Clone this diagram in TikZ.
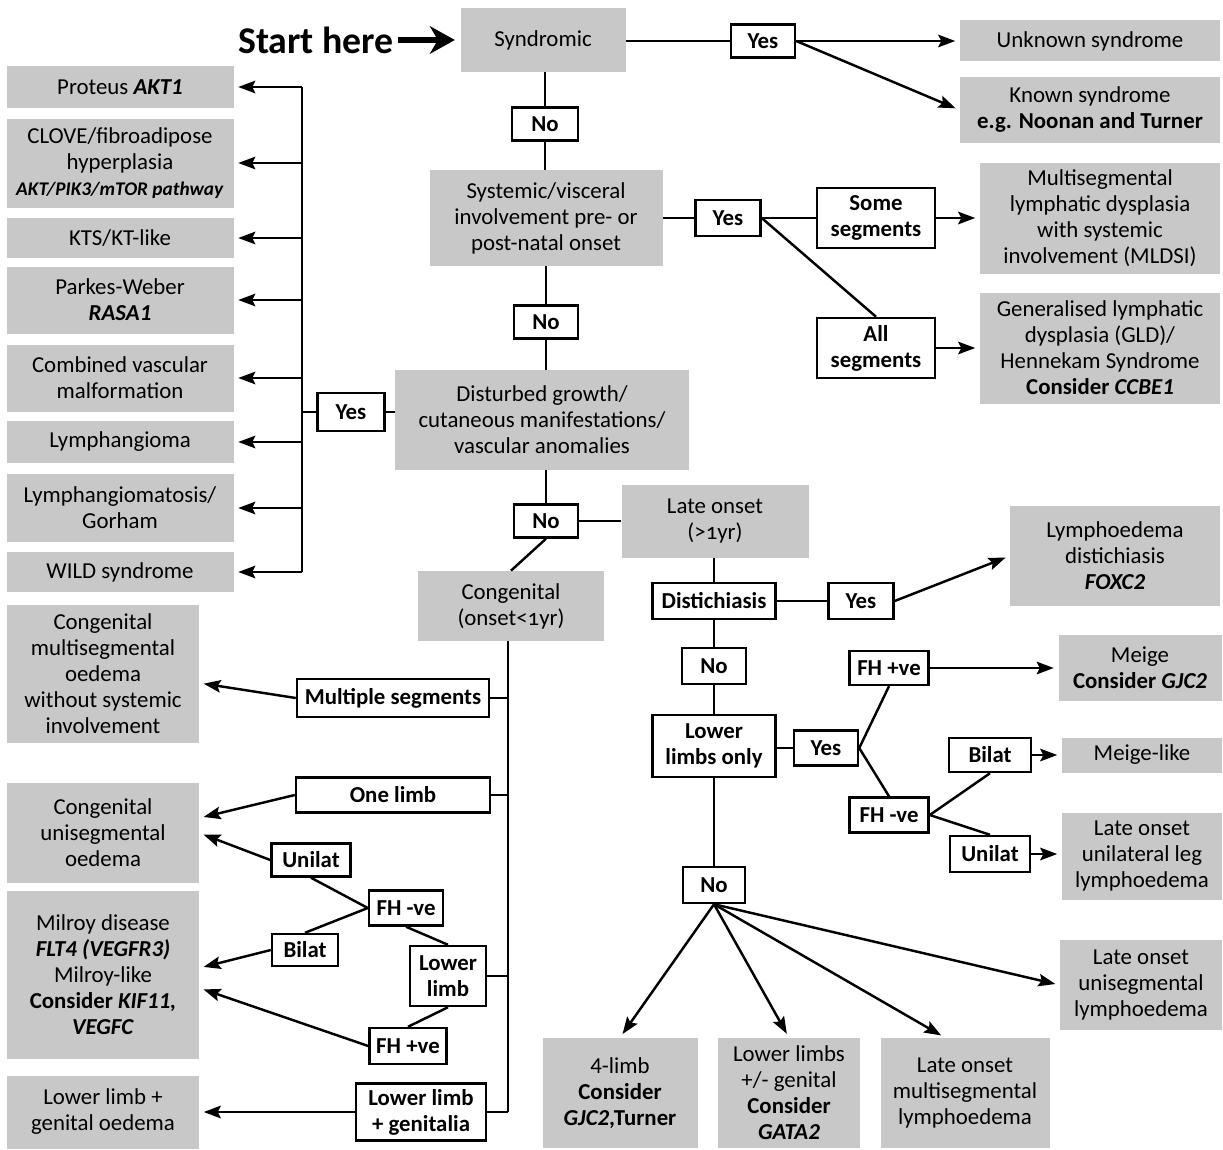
\documentclass[tikz,border=0pt]{standalone}
\usepackage{fontspec}
\setmainfont{Carlito}
\usetikzlibrary{arrows.meta, positioning}
\definecolor{boxgray}{RGB}{200,200,200}
\newcommand{\gene}[1]{\textbf{\textit{#1}}}
\newcommand{\oldone}{{\addfontfeatures{Numbers=OldStyle}1}}

\begin{document}
\begin{tikzpicture}[x=0.02cm, y=-0.02cm,
  gbox/.style={fill=boxgray, align=center, inner sep=1pt, font=\fontsize{13}{14.8}\selectfont},
  ybox/.style={draw, line width=1.4pt, fill=white, align=center, inner sep=1pt, font=\fontsize{13}{14.8}\selectfont\bfseries},
  sz/.style 2 args={minimum width=#1*0.02cm, minimum height=#2*0.02cm},
  link/.style={line width=1.4pt},
  arr/.style={-{Stealth[length=3.4mm, width=2.5mm, inset=0.6mm]}, line width=1.4pt, shorten >=2.5pt}
]
\useasboundingbox (0,0) rectangle (1223,1149);

% top row
\node[gbox, sz={165}{64}] (synd) at (543,40) {Syndromic};
\node[left=1.25cm of synd, inner sep=2pt, font=\fontsize{21.5}{24}\selectfont\bfseries] (start) {Start here};
\node[ybox, sz={64}{33}] (yes1) at (763,41) {Yes};
\node[gbox, sz={260}{41}] (unknown) at (1090,41) {Unknown syndrome};
\node[gbox, sz={260}{66}] (known) at (1090,110) {Known syndrome\\\textbf{e.g. Noonan and Turner}};

% systemic branch
\node[ybox, sz={66}{33}] (no1) at (545,124) {No};
\node[gbox, sz={233}{96}] (systemic) at (546,218) {Systemic/visceral\\involvement pre- or\\post-natal onset};
\node[ybox, sz={65}{36}] (yes2) at (728,218) {Yes};
\node[ybox, sz={118}{60}] (some) at (876,218) {Some\\segments};
\node[ybox, sz={118}{60}] (all) at (876,348) {All\\segments};
\node[gbox, sz={240}{111}] (mldsi) at (1100,218) {Multisegmental\\lymphatic dysplasia\\with systemic\\involvement (MLDSI)};
\node[gbox, sz={240}{111}] (gld) at (1100,348) {Generalised lymphatic\\dysplasia (GLD)/\\Hennekam Syndrome\\\textbf{Consider \textit{CCBE1}}};

% growth branch
\node[ybox, sz={64}{33}] (no2) at (546,322) {No};
\node[gbox, sz={294}{100}] (growth) at (542,420) {Disturbed growth/\\cutaneous manifestations/\\vascular anomalies};
\node[ybox, sz={67}{38}] (yes3) at (351,412) {Yes};
\coordinate (bus) at (302,412);
\node[gbox, sz={227}{42}] (proteus) at (120,87) {Proteus \gene{AKT1}};
\node[gbox, sz={227}{89}] (clove) at (120,163) {CLOVE/fibroadipose\\hyperplasia\\{\fontsize{11}{14}\selectfont\gene{AKT/PIK3/mTOR pathway}}};
\node[gbox, sz={227}{40}] (kts) at (120,238) {KTS/KT-like};
\node[gbox, sz={227}{67}] (parkes) at (120,300) {Parkes-Weber\\\gene{RASA1}};
\node[gbox, sz={227}{67}] (combined) at (120,378) {Combined vascular\\malformation};
\node[gbox, sz={227}{42}] (lymphangioma) at (120,442) {Lymphangioma};
\node[gbox, sz={227}{68}] (gorham) at (120,508) {Lymphangiomatosis/\\Gorham};
\node[gbox, sz={227}{40}] (wild) at (120,572) {WILD syndrome};

% onset
\node[ybox, sz={64}{33}] (no3) at (546,521) {No};
\node[gbox, sz={187}{73}] (late) at (715,521) {Late onset\\(>\oldone yr)};
\node[gbox, sz={186}{70}] (congen) at (511,606) {Congenital\\(onset<\oldone yr)};
\coordinate (spine) at (508,641);

% congenital side
\node[ybox, sz={192}{38}] (multseg) at (393,698) {Multiple segments};
\node[ybox, sz={194}{35}] (onelimb) at (393,795) {One limb};
\node[ybox, sz={79}{33}] (unilatL) at (311,860) {Unilat};
\node[ybox, sz={74}{35}] (fhnegL) at (406,908) {FH -ve};
\node[ybox, sz={66}{32}] (bilatL) at (305,950) {Bilat};
\node[ybox, sz={76}{60}] (lowlimb) at (448,976) {Lower\\limb};
\node[ybox, sz={77}{36}] (fhposL) at (408,1046) {FH +ve};
\node[ybox, sz={130}{57}] (limbgen) at (421,1112) {Lower limb\\+ genitalia};
\node[gbox, sz={192}{138}] (congmulti) at (103,674) {Congenital\\multisegmental\\oedema\\without systemic\\involvement};
\node[gbox, sz={192}{100}] (congunis) at (103,833) {Congenital\\unisegmental\\oedema};
\node[gbox, sz={192}{168}] (milroy) at (103,975) {Milroy disease\\\gene{FLT4 (VEGFR3)}\\Milroy-like\\\textbf{Consider \textit{KIF11,}}\\\gene{VEGFC}};
\node[gbox, sz={192}{73}] (llgenital) at (103,1112) {Lower limb +\\genital oedema};

% late onset side
\node[ybox, sz={123}{36}] (dist) at (714,601) {Distichiasis};
\node[ybox, sz={65}{36}] (yes4) at (861,601) {Yes};
\node[gbox, sz={210}{100}] (foxc) at (1115,556) {Lymphoedema\\distichiasis\\\gene{FOXC2}};
\node[ybox, sz={64}{36}] (no4) at (714,666) {No};
\node[ybox, sz={123}{62}] (lowonly) at (714,746) {Lower\\limbs only};
\node[ybox, sz={64}{35}] (yes5) at (826,748) {Yes};
\node[ybox, sz={79}{34}] (fhposR) at (889,668) {FH +ve};
\node[ybox, sz={79}{35}] (fhnegR) at (889,815) {FH -ve};
\node[ybox, sz={82}{34}] (bilatR) at (990,755) {Bilat};
\node[ybox, sz={80}{36}] (unilatR) at (990,854) {Unilat};
\node[gbox, sz={163}{66}] (meige) at (1140,668) {Meige\\\textbf{Consider \textit{GJC2}}};
\node[gbox, sz={160}{35}] (meigelike) at (1142,755) {Meige-like};
\node[gbox, sz={160}{87}] (lateunilat) at (1142,856) {Late onset\\unilateral leg\\lymphoedema};
\node[ybox, sz={62}{36}] (no5) at (714,885) {No};
\node[gbox, sz={162}{90}] (lateuniseg) at (1141,985) {Late onset\\unisegmental\\lymphoedema};
\node[gbox, sz={155}{110}] (fourlimb) at (620,1093) {4-limb\\\textbf{Consider}\\\textbf{\textit{GJC2},Turner}};
\node[gbox, sz={142}{110}] (gata) at (789,1093) {Lower limbs\\+/- genital\\\textbf{Consider}\\\gene{GATA2}};
\node[gbox, sz={169}{110}] (latemulti) at (965,1093) {Late onset\\multisegmental\\lymphoedema};

% connectors
\draw[-{Stealth[length=5mm, width=5.5mm, inset=1.6mm]}, line width=3.6pt, shorten >=3pt] (start) -- (synd);
\draw[link] (synd.east |- yes1) -- (yes1);
\draw[arr] (yes1) -- (unknown);
\draw[arr] (yes1.east) -- (known.west);
\draw[link] (no1 |- synd.south) -- (no1) -- (no1 |- systemic.north);
\draw[link] (systemic) -- (yes2) -- (some);
\draw[arr] (some) -- (mldsi);
\draw[link] (yes2.east) -- (all.north);
\draw[arr] (all) -- (gld);
\draw[link] (no2 |- systemic.south) -- (no2) -- (no2 |- growth.north);
\draw[link] (yes3.east -| growth.west) -- (yes3) -- (bus);
\draw[link] (bus |- proteus.east) -- (bus |- wild.east);
\foreach \n in {proteus, clove, kts, parkes, combined, lymphangioma, gorham, wild}
  \draw[arr] (bus |- \n.east) -- (\n.east);

\draw[link] (no3 |- growth.south) -- (no3) -- (no3 -| late.west);
\draw[link] (no3.south) -- (congen.north);
\draw[link] (spine) -- (spine |- limbgen.east);
\foreach \n in {multseg, onelimb, lowlimb, limbgen}
  \draw[link] (\n.east) -- (spine |- \n.east);
\draw[arr] (multseg.west) -- ([yshift=-0.18cm]congmulti.east);
\draw[arr] (onelimb.west) -- ([yshift=0.3cm]congunis.east);
\draw[arr] (unilatL.west) -- (congunis.east);
\draw[link] (fhnegL.west) -- (unilatL.south);
\draw[link] (fhnegL.west) -- (bilatL.north);
\draw[arr] (bilatL.west) -- ([yshift=0.14cm]milroy.east);
\draw[arr] (fhposL.west) -- ([yshift=-0.26cm]milroy.east);
\draw[link] (fhnegL.south) -- (lowlimb.north);
\draw[link] (lowlimb.south) -- (fhposL.north);
\draw[arr] (limbgen) -- (llgenital);

\draw[link] (dist |- late.south) -- (dist) -- (yes4);
\draw[arr] (yes4.east) -- (foxc.west);
\draw[link] (dist) -- (no4) -- (lowonly);
\draw[link] (yes5 -| lowonly.east) -- (yes5);
\draw[link] (yes5.east) -- (fhposR.south);
\draw[link] (yes5.east) -- (fhnegR.north);
\draw[arr] (fhposR) -- (meige);
\draw[link] (fhnegR.east) -- (bilatR.south);
\draw[link] (fhnegR.east) -- (unilatR.north);
\draw[arr] (bilatR) -- (meigelike);
\draw[arr] (unilatR.east) -- (unilatR.east -| lateunilat.west);
\draw[link] (lowonly) -- (no5);
\draw[arr] (no5.south) -- (fourlimb.north);
\draw[arr] (no5.south) -- (gata.north);
\draw[arr] (no5.south) -- ([xshift=-0.4cm]latemulti.north);
\draw[arr] (no5.south) -- (lateuniseg.west);
\end{tikzpicture}
\end{document}
